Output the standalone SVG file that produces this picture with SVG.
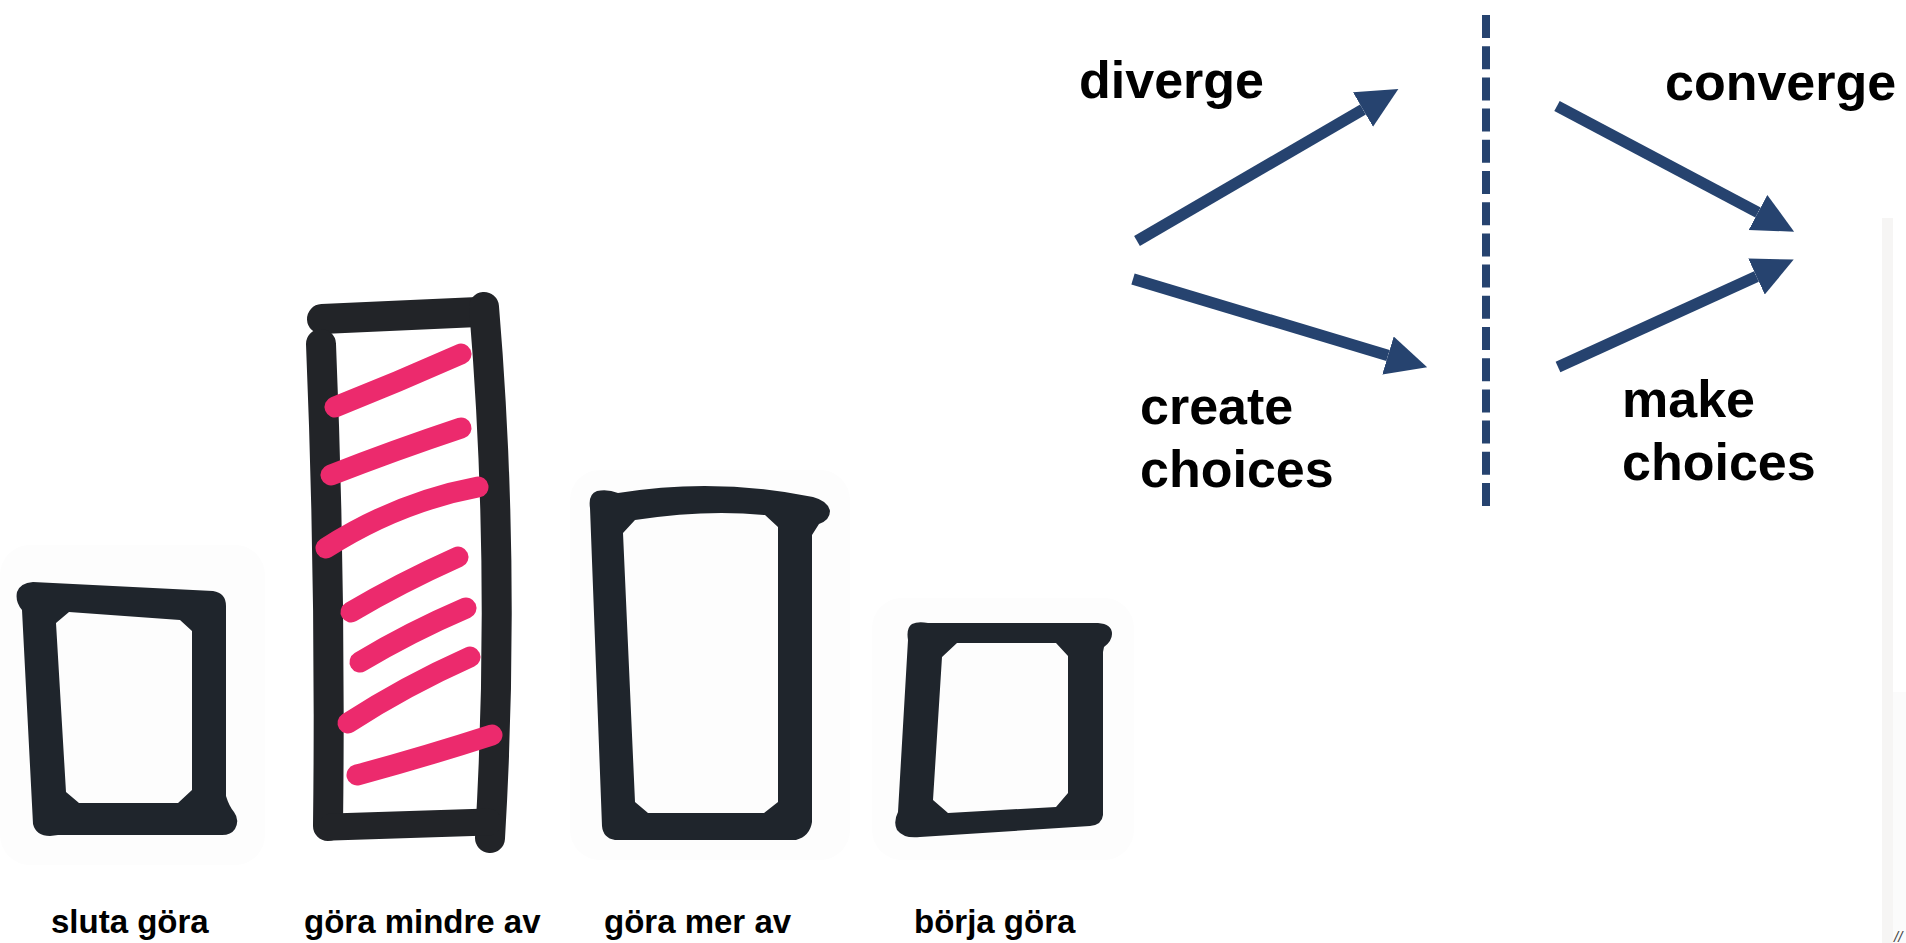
<svg xmlns="http://www.w3.org/2000/svg" width="1906" height="943" viewBox="0 0 1906 943">
  <style>
    .lbl { font-family: "Liberation Sans", Arial, sans-serif; font-weight: 700; fill: #000; }
    .big { font-size: 52px; }
    .small { font-size: 33px; }
    .box { fill: #1f252c; fill-rule: evenodd; }
    .post { fill: none; stroke: #222428; stroke-width: 30; stroke-linecap: round; stroke-linejoin: round; }
    .stripe { fill: none; stroke: #ec2a6d; stroke-width: 21; stroke-linecap: round; }
    .arrow { fill: none; stroke: #26436f; stroke-width: 11.5; marker-end: url(#head); }
    .soft { fill: #fdfdfd; }
  </style>
  <defs>
    <marker id="head" markerUnits="userSpaceOnUse" markerWidth="42" markerHeight="42" viewBox="0 -19 38 38" refX="0" refY="0" orient="auto">
      <path d="M0,-18 L37,0 L0,18 Z" fill="#26436f"/>
    </marker>
  </defs>
  <rect width="1906" height="943" fill="#ffffff"/>

  <!-- faint right panel edge -->
  <rect x="1882" y="218" width="11" height="725" fill="#f6f5f4"/>
  <rect x="1893" y="692" width="13" height="251" fill="#fbfbfb"/>

  <g id="box-sluta">
    <rect class="soft" x="0" y="545" width="265" height="320" rx="30"/>
    <path class="box" d="M33,582 L213,591 Q226,593 226,606 L226,796 Q229,806 234,812 Q240,820 235,829 Q231,835 222,835 L58,835 L50,836 Q36,836 33,824 L22,610 Q15,602 17,592 Q20,583 33,582 Z M69,612 L180,620 L192,631 L192,790 L178,803 L79,803 L66,792 L56,623 Z"/>
  </g>

  <g id="box-mindre">
    <path class="post" d="M322,319 L478,312"/>
    <path class="post" d="M321,344 Q331,585 328,826"/>
    <path class="post" d="M484,307 Q506,570 490,838"/>
    <path class="post" d="M332,827 L488,822" style="stroke-width:27"/>
    <path class="stripe" d="M335,407 Q398,382 461,354"/>
    <path class="stripe" d="M331,475 Q395,450 461,428"/>
    <path class="stripe" d="M326,548 Q398,502 478,487"/>
    <path class="stripe" d="M351,612 Q400,583 458,557"/>
    <path class="stripe" d="M360,662 Q410,632 466,608"/>
    <path class="stripe" d="M348,723 Q405,686 470,657"/>
    <path class="stripe" d="M357,775 Q424,757 492,735"/>
  </g>

  <g id="box-mer">
    <rect class="soft" x="570" y="470" width="280" height="390" rx="30"/>
    <path class="box" d="M597,491 Q608,489 618,493 Q715,477 813,497 Q828,501 830,511 Q830,520 819,524 L812,535 L812,822 Q810,836 796,840 L615,840 Q603,838 602,826 L590,508 Q588,494 597,491 Z M635,520 Q705,509 765,515 L778,527 L778,802 L764,813 L648,813 L635,802 L623,533 Z"/>
  </g>

  <g id="box-borja">
    <rect class="soft" x="872" y="598" width="262" height="262" rx="30"/>
    <path class="box" d="M912,624 Q918,621 928,623 L1098,623 Q1112,624 1112,634 Q1112,641 1104,647 L1103,652 L1103,815 Q1102,825 1090,826 L920,837 Q904,839 897,830 Q893,822 898,812 L908,640 Q906,628 912,624 Z M957,643 L1056,643 L1068,656 L1068,793 L1056,807 L948,813 L933,800 L942,657 Z"/>
  </g>

  <g id="labels-bottom">
    <text class="lbl small" x="51" y="933">sluta göra</text>
    <text class="lbl small" x="304" y="933">göra mindre av</text>
    <text class="lbl small" x="604" y="933">göra mer av</text>
    <text class="lbl small" x="914" y="933">börja göra</text>
  </g>

  <g id="divider">
    <line x1="1486" y1="15" x2="1486" y2="507" stroke="#26436f" stroke-width="8" stroke-dasharray="23 8.2"/>
  </g>

  <g id="label-diverge"><text class="lbl big" x="1079" y="98">diverge</text></g>
  <g id="label-create"><text class="lbl big" x="1140" y="424">create</text><text class="lbl big" x="1140" y="487">choices</text></g>
  <g id="label-converge"><text class="lbl big" x="1665" y="100">converge</text></g>
  <g id="label-make"><text class="lbl big" x="1622" y="417">make</text><text class="lbl big" x="1622" y="480">choices</text></g>

  <g id="connectors">
    <path class="arrow" d="M1137,241 L1363,109.5"/>
    <path class="arrow" d="M1133,279 L1388,355.5"/>
    <path class="arrow" d="M1557,106 L1758,212.5"/>
    <path class="arrow" d="M1558,367 L1756.5,276.5"/>
  </g>

  <text x="1894" y="942" font-family="Liberation Sans, Arial, sans-serif" font-style="italic" font-size="15" fill="#444">//</text>
</svg>
